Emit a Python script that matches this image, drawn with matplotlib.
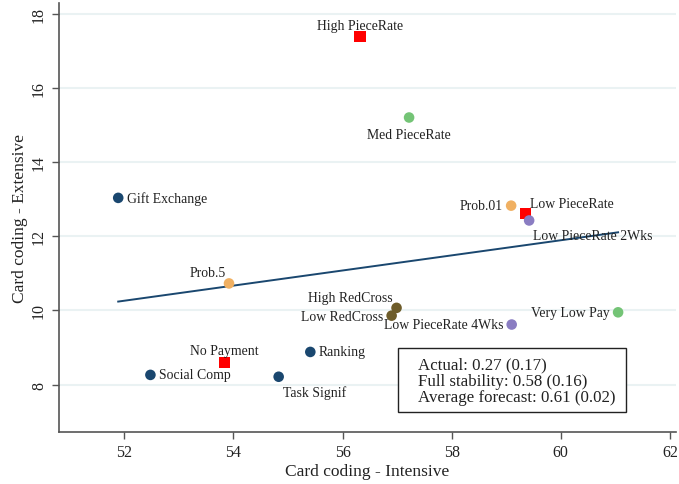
import matplotlib
matplotlib.use("Agg")
import matplotlib.pyplot as plt
from matplotlib.patches import Rectangle

plt.rcParams['font.family'] = ['Liberation Serif', 'DejaVu Serif']

# ---- data ----
labels = ["High PieceRate", "Med PieceRate", "Gift Exchange", "Prob.01", "Low PieceRate",
          "Low PieceRate 2Wks", "Prob.5", "High RedCross", "Low RedCross",
          "Low PieceRate 4Wks", "Very Low Pay", "No Payment", "Ranking",
          "Social Comp", "Task Signif"]
x_int = [56.32, 57.22, 51.89, 59.09, 59.36, 59.42, 53.92, 56.99, 56.90,
         59.10, 61.05, 53.83, 55.41, 52.48, 54.83]
y_ext = [17.39, 15.21, 13.04, 12.83, 12.62, 12.43, 10.73, 10.07, 9.86,
         9.62, 9.95, 8.59, 8.88, 8.26, 8.21]
groups = ["pay", "med", "behav", "prob", "pay", "time", "prob", "charity", "charity",
          "time", "med", "pay", "behav", "behav", "behav"]
fit_x = [51.89, 61.05]
fit_y = [10.24, 12.11]
xticks = [52, 54, 56, 58, 60, 62]
yticks = [8, 10, 12, 14, 16, 18]
box_lines = ["Actual: 0.27 (0.17)", "Full stability: 0.58 (0.16)", "Average forecast: 0.61 (0.02)"]

# ---- styles ----
colors = {"pay": "#ff0000", "med": "#74c476", "behav": "#1a476f", "prob": "#f0b062",
          "time": "#8a7dc2", "charity": "#6e5c2a"}
markers = {"pay": "s", "med": "o", "behav": "o", "prob": "o", "time": "o", "charity": "o"}
# label offsets (points) and alignment
offsets = {
    "High PieceRate": (0, 8, "center"),
    "Med PieceRate": (0, -12, "center"),
    "Gift Exchange": (6, 0, "left"),
    "Prob.01": (-6, 0, "right"),
    "Low PieceRate": (3, 7.5, "left"),
    "Low PieceRate 2Wks": (3, -11, "left"),
    "Prob.5": (-2.5, 8, "right"),
    "High RedCross": (-3, 7.7, "right"),
    "Low RedCross": (-6, -0.7, "right"),
    "Low PieceRate 4Wks": (-6, 0, "right"),
    "Very Low Pay": (-6, 0, "right"),
    "No Payment": (0, 9, "center"),
    "Ranking": (6, 0, "left"),
    "Social Comp": (6, 0, "left"),
    "Task Signif": (3.3, -11, "left"),
}

fig = plt.figure(figsize=(6.79, 4.85), dpi=100)
ax = fig.add_axes([0.0865, 0.1066, 0.909, 0.885])

for yt in yticks:
    ax.axhline(yt, color="#eaf2f3", lw=1.5, zorder=0)

ax.plot(fit_x, fit_y, color="#1a476f", lw=1.4, zorder=2)

for lab, x, y, g in zip(labels, x_int, y_ext, groups):
    m = markers[g]
    s = 64 if m == "s" else 58
    ax.scatter([x], [y], s=s, marker=m, color=colors[g], edgecolors="none", zorder=3)
    dx, dy, ha = offsets[lab]
    ax.annotate(lab, (x, y), xytext=(dx, dy), textcoords="offset points",
                ha=ha, va="center", fontsize=9.9, color="#222222", zorder=4)

ax.set_xlim(50.8, 62.11)
ax.set_ylim(6.71, 18.3)
ax.set_xticks(xticks)
ax.set_yticks(yticks)
ax.tick_params(axis="both", colors="#555555", labelcolor="#222222", labelsize=11.5,
               length=5, width=1, direction="out")
for t in ax.get_yticklabels():
    t.set_rotation(90)
    t.set_va("center")
for side in ["top", "right"]:
    ax.spines[side].set_visible(False)
for side in ["left", "bottom"]:
    ax.spines[side].set_color("#555555")
    ax.spines[side].set_linewidth(1.2)

ax.set_xlabel("Card coding - Intensive", fontsize=12.5, color="#222222", labelpad=2)
ax.set_ylabel("Card coding - Extensive", fontsize=12.5, color="#222222", labelpad=2)

ax.add_patch(Rectangle((0.549, 0.048), 0.37, 0.148, transform=ax.transAxes,
                       facecolor="white", edgecolor="#222222", lw=1.0, zorder=5))
ax.text(0.582, 0.120, "\n".join(box_lines), transform=ax.transAxes, ha="left",
        va="center", fontsize=12.2, color="#222222", linespacing=1.05, zorder=6)

fig.savefig("out.png", dpi=100)
